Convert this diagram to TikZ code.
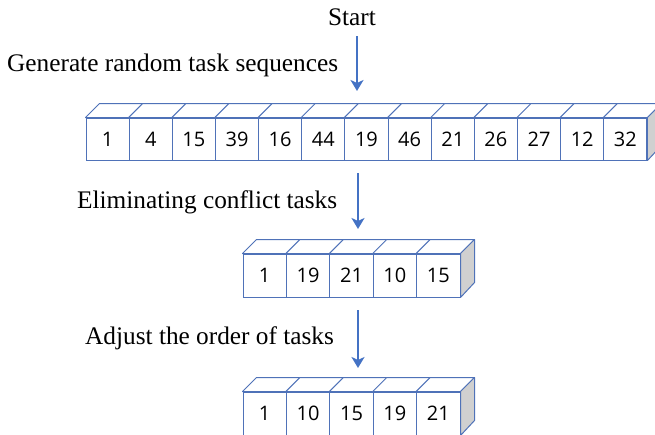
\documentclass[tikz,border=0pt]{standalone}
\usepackage{fontspec}
\setmainfont{Liberation Serif}
\newfontfamily\numfont{Open Sans}
\usetikzlibrary{calc,arrows.meta}

\definecolor{edge}{HTML}{4F72B8}
\definecolor{flow}{HTML}{4472C4}
\definecolor{sidegrey}{HTML}{D0D0D0}

\tikzset{
  cell/.style={draw=edge, line width=1pt, fill=white, inner sep=0pt,
    minimum width=#1, font=\numfont\fontsize{20}{24}\selectfont},
  face/.style={draw=edge, line width=1pt, fill=white, line join=round},
  sideface/.style={draw=edge, line width=1pt, fill=sidegrey, line join=round},
  steplabel/.style={font=\fontsize{25.3}{30}\selectfont, inner sep=0pt},
  flowarrow/.style={draw=flow, line width=2.6pt,
    -{Stealth[length=11pt,width=13pt,inset=3pt]}},
}

\begin{document}
\begin{tikzpicture}[x=1pt,y=-1pt]
\useasboundingbox (0,0) rectangle (655,434);
\clip (0,0) rectangle (655,434);
\fill[white] (0,0) rectangle (655,434);

% generated sequence: 13 cells
\foreach \v [count=\i] in {1,4,15,39,16,44,19,46,21,26,27,12,32}
  \node[cell=43.15pt, minimum height=42pt] (t\i) at ({86+(\i-0.5)*43.15},139) {\raisebox{-1.5pt}{\v}};
\foreach \i in {1,...,13}
  \draw[face] (t\i.north west) -- ++(14,-14) -- ($(t\i.north east)+(14,-14)$) -- (t\i.north east) -- cycle;
\draw[sideface] (t13.north east) -- ++(14,-14) -- ++(0,42) -- (t13.south east) -- cycle;

% after eliminating conflicts
\foreach \v [count=\i] in {1,19,21,10,15}
  \node[cell=43.4pt, minimum height=43pt] (m\i) at ({243+(\i-0.5)*43.4},275.5) {\raisebox{-3pt}{\v}};
\foreach \i in {1,...,5}
  \draw[face] (m\i.north west) -- ++(14,-14) -- ($(m\i.north east)+(14,-14)$) -- (m\i.north east) -- cycle;
\draw[sideface] (m5.north east) -- ++(14,-14) -- ++(0,43) -- (m5.south east) -- cycle;

% after reordering
\foreach \v [count=\i] in {1,10,15,19,21}
  \node[cell=43.4pt, minimum height=43pt] (b\i) at ({243+(\i-0.5)*43.4},413.5) {\raisebox{-3pt}{\v}};
\foreach \i in {1,...,5}
  \draw[face] (b\i.north west) -- ++(14,-14) -- ($(b\i.north east)+(14,-14)$) -- (b\i.north east) -- cycle;
\draw[sideface] (b5.north east) -- ++(14,-14) -- ++(0,43) -- (b5.south east) -- cycle;

% labels
\node[steplabel, anchor=base] (start) at (352,25) {Start};
\node[steplabel, anchor=base west] (gen) at (7,71) {Generate random task sequences};
\node[steplabel, anchor=base west] (elim) at (77,208) {Eliminating conflict tasks};
\node[steplabel, anchor=base west] (adj) at (85,344) {Adjust the order of tasks};

% arrows
\coordinate (a1s) at (357,36);  \coordinate (a1e) at (357,91);
\coordinate (a2s) at (358,173); \coordinate (a2e) at (358,229);
\coordinate (a3s) at (358,310); \coordinate (a3e) at (358,368);
\draw[flowarrow] (a1s) -- (a1e);
\draw[flowarrow] (a2s) -- (a2e);
\draw[flowarrow] (a3s) -- (a3e);
\end{tikzpicture}
\end{document}
